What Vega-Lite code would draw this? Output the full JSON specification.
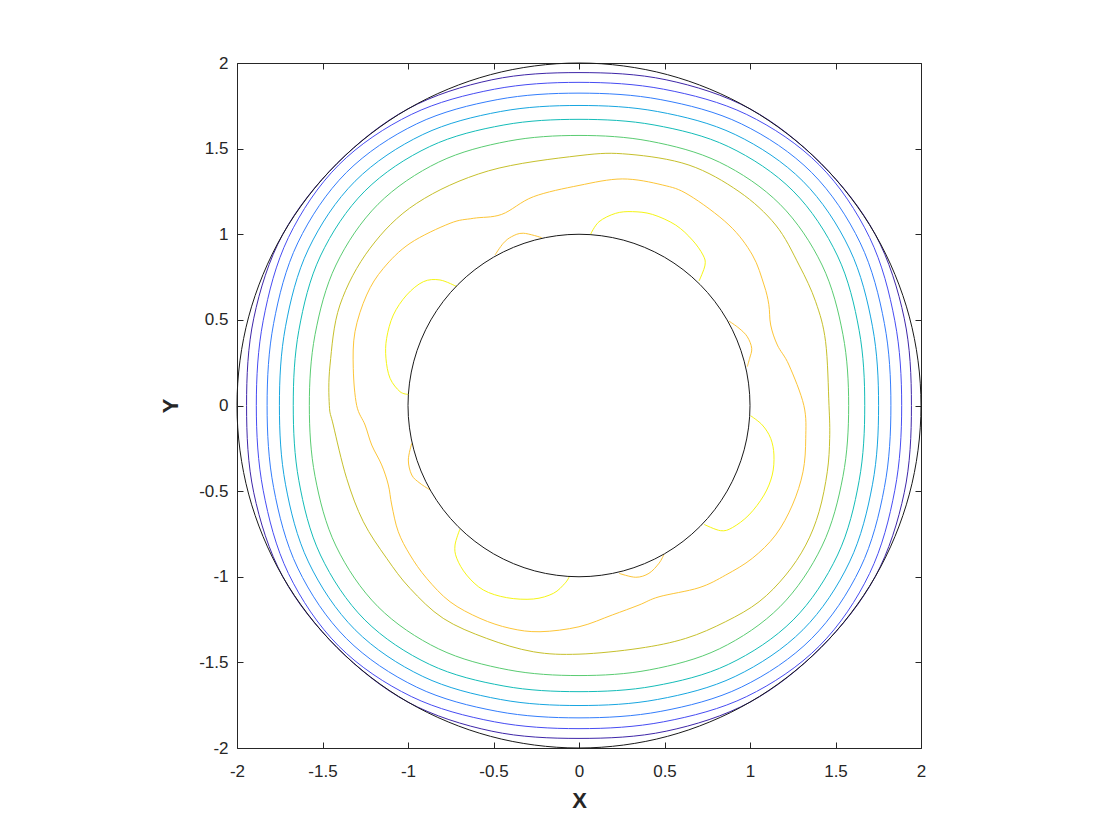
{
"$schema": "https://vega.github.io/schema/vega-lite/v6.json",
"width": 684, "height": 685,
"autosize": {"type": "none"},
"padding": {"left": 237, "top": 63, "right": 199, "bottom": 92},
"background": "white",
"config": {"view": {"stroke": "#262626", "strokeWidth": 1}},
"datasets": {
"closed": [
{"lev":"L1","i":0,"x":1.944,"y":0},{"lev":"L1","i":1,"x":1.9019,"y":0.5096},{"lev":"L1","i":2,"x":1.7321,"y":1},{"lev":"L1","i":3,"x":1.4142,"y":1.4142},{"lev":"L1","i":4,"x":1,"y":1.7321},{"lev":"L1","i":5,"x":0.5096,"y":1.9019},{"lev":"L1","i":6,"x":0,"y":1.944},{"lev":"L1","i":7,"x":-0.5096,"y":1.9019},{"lev":"L1","i":8,"x":-1,"y":1.7321},{"lev":"L1","i":9,"x":-1.4142,"y":1.4142},{"lev":"L1","i":10,"x":-1.7321,"y":1},{"lev":"L1","i":11,"x":-1.9019,"y":0.5096},{"lev":"L1","i":12,"x":-1.944,"y":0},{"lev":"L1","i":13,"x":-1.9019,"y":-0.5096},{"lev":"L1","i":14,"x":-1.7321,"y":-1},{"lev":"L1","i":15,"x":-1.4142,"y":-1.4142},{"lev":"L1","i":16,"x":-1,"y":-1.7321},{"lev":"L1","i":17,"x":-0.5096,"y":-1.9019},{"lev":"L1","i":18,"x":0,"y":-1.944},{"lev":"L1","i":19,"x":0.5096,"y":-1.9019},{"lev":"L1","i":20,"x":1,"y":-1.7321},{"lev":"L1","i":21,"x":1.4142,"y":-1.4142},{"lev":"L1","i":22,"x":1.7321,"y":-1},{"lev":"L1","i":23,"x":1.9019,"y":-0.5096},
{"lev":"L2","i":0,"x":1.887,"y":0},{"lev":"L2","i":1,"x":1.8469,"y":0.4949},{"lev":"L2","i":2,"x":1.6992,"y":0.981},{"lev":"L2","i":3,"x":1.405,"y":1.405},{"lev":"L2","i":4,"x":0.981,"y":1.6992},{"lev":"L2","i":5,"x":0.4949,"y":1.8469},{"lev":"L2","i":6,"x":0,"y":1.887},{"lev":"L2","i":7,"x":-0.4949,"y":1.8469},{"lev":"L2","i":8,"x":-0.981,"y":1.6992},{"lev":"L2","i":9,"x":-1.405,"y":1.405},{"lev":"L2","i":10,"x":-1.6992,"y":0.981},{"lev":"L2","i":11,"x":-1.8469,"y":0.4949},{"lev":"L2","i":12,"x":-1.887,"y":0},{"lev":"L2","i":13,"x":-1.8469,"y":-0.4949},{"lev":"L2","i":14,"x":-1.6992,"y":-0.981},{"lev":"L2","i":15,"x":-1.405,"y":-1.405},{"lev":"L2","i":16,"x":-0.981,"y":-1.6992},{"lev":"L2","i":17,"x":-0.4949,"y":-1.8469},{"lev":"L2","i":18,"x":0,"y":-1.887},{"lev":"L2","i":19,"x":0.4949,"y":-1.8469},{"lev":"L2","i":20,"x":0.981,"y":-1.6992},{"lev":"L2","i":21,"x":1.405,"y":-1.405},{"lev":"L2","i":22,"x":1.6992,"y":-0.981},{"lev":"L2","i":23,"x":1.8469,"y":-0.4949},
{"lev":"L3","i":0,"x":1.824,"y":0},{"lev":"L3","i":1,"x":1.786,"y":0.4786},{"lev":"L3","i":2,"x":1.6446,"y":0.9495},{"lev":"L3","i":3,"x":1.3605,"y":1.3605},{"lev":"L3","i":4,"x":0.9495,"y":1.6446},{"lev":"L3","i":5,"x":0.4786,"y":1.786},{"lev":"L3","i":6,"x":0,"y":1.824},{"lev":"L3","i":7,"x":-0.4786,"y":1.786},{"lev":"L3","i":8,"x":-0.9495,"y":1.6446},{"lev":"L3","i":9,"x":-1.3605,"y":1.3605},{"lev":"L3","i":10,"x":-1.6446,"y":0.9495},{"lev":"L3","i":11,"x":-1.786,"y":0.4786},{"lev":"L3","i":12,"x":-1.824,"y":0},{"lev":"L3","i":13,"x":-1.786,"y":-0.4786},{"lev":"L3","i":14,"x":-1.6446,"y":-0.9495},{"lev":"L3","i":15,"x":-1.3605,"y":-1.3605},{"lev":"L3","i":16,"x":-0.9495,"y":-1.6446},{"lev":"L3","i":17,"x":-0.4786,"y":-1.786},{"lev":"L3","i":18,"x":0,"y":-1.824},{"lev":"L3","i":19,"x":0.4786,"y":-1.786},{"lev":"L3","i":20,"x":0.9495,"y":-1.6446},{"lev":"L3","i":21,"x":1.3605,"y":-1.3605},{"lev":"L3","i":22,"x":1.6446,"y":-0.9495},{"lev":"L3","i":23,"x":1.786,"y":-0.4786},
{"lev":"L4","i":0,"x":1.752,"y":0},{"lev":"L4","i":1,"x":1.7165,"y":0.4599},{"lev":"L4","i":2,"x":1.5822,"y":0.9135},{"lev":"L4","i":3,"x":1.3096,"y":1.3096},{"lev":"L4","i":4,"x":0.9135,"y":1.5822},{"lev":"L4","i":5,"x":0.4599,"y":1.7165},{"lev":"L4","i":6,"x":0,"y":1.752},{"lev":"L4","i":7,"x":-0.4599,"y":1.7165},{"lev":"L4","i":8,"x":-0.9135,"y":1.5822},{"lev":"L4","i":9,"x":-1.3096,"y":1.3096},{"lev":"L4","i":10,"x":-1.5822,"y":0.9135},{"lev":"L4","i":11,"x":-1.7165,"y":0.4599},{"lev":"L4","i":12,"x":-1.752,"y":0},{"lev":"L4","i":13,"x":-1.7165,"y":-0.4599},{"lev":"L4","i":14,"x":-1.5822,"y":-0.9135},{"lev":"L4","i":15,"x":-1.3096,"y":-1.3096},{"lev":"L4","i":16,"x":-0.9135,"y":-1.5822},{"lev":"L4","i":17,"x":-0.4599,"y":-1.7165},{"lev":"L4","i":18,"x":0,"y":-1.752},{"lev":"L4","i":19,"x":0.4599,"y":-1.7165},{"lev":"L4","i":20,"x":0.9135,"y":-1.5822},{"lev":"L4","i":21,"x":1.3096,"y":-1.3096},{"lev":"L4","i":22,"x":1.5822,"y":-0.9135},{"lev":"L4","i":23,"x":1.7165,"y":-0.4599},
{"lev":"L5","i":0,"x":1.671,"y":0},{"lev":"L5","i":1,"x":1.6382,"y":0.439},{"lev":"L5","i":2,"x":1.5121,"y":0.873},{"lev":"L5","i":3,"x":1.2523,"y":1.2523},{"lev":"L5","i":4,"x":0.873,"y":1.5121},{"lev":"L5","i":5,"x":0.439,"y":1.6382},{"lev":"L5","i":6,"x":0,"y":1.671},{"lev":"L5","i":7,"x":-0.439,"y":1.6382},{"lev":"L5","i":8,"x":-0.873,"y":1.5121},{"lev":"L5","i":9,"x":-1.2523,"y":1.2523},{"lev":"L5","i":10,"x":-1.5121,"y":0.873},{"lev":"L5","i":11,"x":-1.6382,"y":0.439},{"lev":"L5","i":12,"x":-1.671,"y":0},{"lev":"L5","i":13,"x":-1.6382,"y":-0.439},{"lev":"L5","i":14,"x":-1.5121,"y":-0.873},{"lev":"L5","i":15,"x":-1.2523,"y":-1.2523},{"lev":"L5","i":16,"x":-0.873,"y":-1.5121},{"lev":"L5","i":17,"x":-0.439,"y":-1.6382},{"lev":"L5","i":18,"x":0,"y":-1.671},{"lev":"L5","i":19,"x":0.439,"y":-1.6382},{"lev":"L5","i":20,"x":0.873,"y":-1.5121},{"lev":"L5","i":21,"x":1.2523,"y":-1.2523},{"lev":"L5","i":22,"x":1.5121,"y":-0.873},{"lev":"L5","i":23,"x":1.6382,"y":-0.439},
{"lev":"L6","i":0,"x":1.577,"y":0},{"lev":"L6","i":1,"x":1.5436,"y":0.4136},{"lev":"L6","i":2,"x":1.4212,"y":0.8205},{"lev":"L6","i":3,"x":1.1752,"y":1.1752},{"lev":"L6","i":4,"x":0.8205,"y":1.4212},{"lev":"L6","i":5,"x":0.4136,"y":1.5436},{"lev":"L6","i":6,"x":0,"y":1.577},{"lev":"L6","i":7,"x":-0.4136,"y":1.5436},{"lev":"L6","i":8,"x":-0.8205,"y":1.4212},{"lev":"L6","i":9,"x":-1.1752,"y":1.1752},{"lev":"L6","i":10,"x":-1.4212,"y":0.8205},{"lev":"L6","i":11,"x":-1.5436,"y":0.4136},{"lev":"L6","i":12,"x":-1.577,"y":0},{"lev":"L6","i":13,"x":-1.5436,"y":-0.4136},{"lev":"L6","i":14,"x":-1.4212,"y":-0.8205},{"lev":"L6","i":15,"x":-1.1752,"y":-1.1752},{"lev":"L6","i":16,"x":-0.8205,"y":-1.4212},{"lev":"L6","i":17,"x":-0.4136,"y":-1.5436},{"lev":"L6","i":18,"x":0,"y":-1.577},{"lev":"L6","i":19,"x":0.4136,"y":-1.5436},{"lev":"L6","i":20,"x":0.8205,"y":-1.4212},{"lev":"L6","i":21,"x":1.1752,"y":-1.1752},{"lev":"L6","i":22,"x":1.4212,"y":-0.8205},{"lev":"L6","i":23,"x":1.5436,"y":-0.4136},
{"lev":"L7","i":0,"x":1.462,"y":0},{"lev":"L7","i":1,"x":1.442,"y":0.373},{"lev":"L7","i":2,"x":1.384,"y":0.606},{"lev":"L7","i":3,"x":1.287,"y":0.82},{"lev":"L7","i":4,"x":1.15,"y":1.054},{"lev":"L7","i":5,"x":0.936,"y":1.249},{"lev":"L7","i":6,"x":0.643,"y":1.404},{"lev":"L7","i":7,"x":0.292,"y":1.467},{"lev":"L7","i":8,"x":0,"y":1.459},{"lev":"L7","i":9,"x":-0.53,"y":1.37},{"lev":"L7","i":10,"x":-0.949,"y":1.181},{"lev":"L7","i":11,"x":-1.222,"y":0.918},{"lev":"L7","i":12,"x":-1.398,"y":0.587},{"lev":"L7","i":13,"x":-1.456,"y":0.236},{"lev":"L7","i":14,"x":-1.46,"y":0},{"lev":"L7","i":15,"x":-1.437,"y":-0.114},{"lev":"L7","i":16,"x":-1.359,"y":-0.425},{"lev":"L7","i":17,"x":-1.261,"y":-0.679},{"lev":"L7","i":18,"x":-1.125,"y":-0.892},{"lev":"L7","i":19,"x":-0.988,"y":-1.068},{"lev":"L7","i":20,"x":-0.794,"y":-1.243},{"lev":"L7","i":21,"x":-0.54,"y":-1.36},{"lev":"L7","i":22,"x":-0.267,"y":-1.438},{"lev":"L7","i":23,"x":0,"y":-1.452},{"lev":"L7","i":24,"x":0.351,"y":-1.418},{"lev":"L7","i":25,"x":0.624,"y":-1.36},{"lev":"L7","i":26,"x":0.858,"y":-1.262},{"lev":"L7","i":27,"x":1.053,"y":-1.146},{"lev":"L7","i":28,"x":1.209,"y":-0.99},{"lev":"L7","i":29,"x":1.326,"y":-0.815},{"lev":"L7","i":30,"x":1.404,"y":-0.62},{"lev":"L7","i":31,"x":1.452,"y":-0.387},{"lev":"L7","i":32,"x":1.466,"y":-0.192},
{"lev":"L8","i":0,"x":1.315,"y":0},{"lev":"L8","i":1,"x":1.228,"y":0.236},{"lev":"L8","i":2,"x":1.16,"y":0.353},{"lev":"L8","i":3,"x":1.121,"y":0.47},{"lev":"L8","i":4,"x":1.11,"y":0.59},{"lev":"L8","i":5,"x":1.082,"y":0.704},{"lev":"L8","i":6,"x":1.014,"y":0.879},{"lev":"L8","i":7,"x":0.877,"y":1.054},{"lev":"L8","i":8,"x":0.643,"y":1.229},{"lev":"L8","i":9,"x":0.487,"y":1.288},{"lev":"L8","i":10,"x":0.253,"y":1.323},{"lev":"L8","i":11,"x":0,"y":1.285},{"lev":"L8","i":12,"x":-0.267,"y":1.219},{"lev":"L8","i":13,"x":-0.452,"y":1.116},{"lev":"L8","i":14,"x":-0.618,"y":1.093},{"lev":"L8","i":15,"x":-0.754,"y":1.064},{"lev":"L8","i":16,"x":-0.988,"y":0.947},{"lev":"L8","i":17,"x":-1.144,"y":0.801},{"lev":"L8","i":18,"x":-1.242,"y":0.645},{"lev":"L8","i":19,"x":-1.31,"y":0.431},{"lev":"L8","i":20,"x":-1.32,"y":0.217},{"lev":"L8","i":21,"x":-1.3,"y":0},{"lev":"L8","i":22,"x":-1.251,"y":-0.114},{"lev":"L8","i":23,"x":-1.212,"y":-0.231},{"lev":"L8","i":24,"x":-1.154,"y":-0.347},{"lev":"L8","i":25,"x":-1.115,"y":-0.464},{"lev":"L8","i":26,"x":-1.095,"y":-0.581},{"lev":"L8","i":27,"x":-1.057,"y":-0.737},{"lev":"L8","i":28,"x":-0.988,"y":-0.873},{"lev":"L8","i":29,"x":-0.891,"y":-1.009},{"lev":"L8","i":30,"x":-0.754,"y":-1.146},{"lev":"L8","i":31,"x":-0.579,"y":-1.243},{"lev":"L8","i":32,"x":-0.404,"y":-1.301},{"lev":"L8","i":33,"x":-0.228,"y":-1.321},{"lev":"L8","i":34,"x":0,"y":-1.292},{"lev":"L8","i":35,"x":0.195,"y":-1.223},{"lev":"L8","i":36,"x":0.351,"y":-1.165},{"lev":"L8","i":37,"x":0.468,"y":-1.117},{"lev":"L8","i":38,"x":0.702,"y":-1.064},{"lev":"L8","i":39,"x":0.858,"y":-0.99},{"lev":"L8","i":40,"x":1.014,"y":-0.892},{"lev":"L8","i":41,"x":1.15,"y":-0.756},{"lev":"L8","i":42,"x":1.248,"y":-0.581},{"lev":"L8","i":43,"x":1.31,"y":-0.387},{"lev":"L8","i":44,"x":1.326,"y":-0.192}
],
"open": [
{"c":"Y1","lev":"L9","i":0,"x":-0.715,"y":0.694},{"c":"Y1","lev":"L9","i":1,"x":-0.813,"y":0.733},{"c":"Y1","lev":"L9","i":2,"x":-0.91,"y":0.723},{"c":"Y1","lev":"L9","i":3,"x":-1.008,"y":0.645},{"c":"Y1","lev":"L9","i":4,"x":-1.086,"y":0.528},{"c":"Y1","lev":"L9","i":5,"x":-1.125,"y":0.392},{"c":"Y1","lev":"L9","i":6,"x":-1.129,"y":0.276},{"c":"Y1","lev":"L9","i":7,"x":-1.105,"y":0.159},{"c":"Y1","lev":"L9","i":8,"x":-1.047,"y":0.081},{"c":"Y1","lev":"L9","i":9,"x":-0.998,"y":0.065},
{"c":"Y2","lev":"L9","i":0,"x":0.068,"y":1.0},{"c":"Y2","lev":"L9","i":1,"x":0.117,"y":1.073},{"c":"Y2","lev":"L9","i":2,"x":0.214,"y":1.122},{"c":"Y2","lev":"L9","i":3,"x":0.312,"y":1.132},{"c":"Y2","lev":"L9","i":4,"x":0.429,"y":1.116},{"c":"Y2","lev":"L9","i":5,"x":0.565,"y":1.054},{"c":"Y2","lev":"L9","i":6,"x":0.663,"y":0.966},{"c":"Y2","lev":"L9","i":7,"x":0.725,"y":0.879},{"c":"Y2","lev":"L9","i":8,"x":0.737,"y":0.82},{"c":"Y2","lev":"L9","i":9,"x":0.702,"y":0.727},
{"c":"Y3","lev":"L9","i":0,"x":1.004,"y":-0.06},{"c":"Y3","lev":"L9","i":1,"x":1.072,"y":-0.114},{"c":"Y3","lev":"L9","i":2,"x":1.121,"y":-0.192},{"c":"Y3","lev":"L9","i":3,"x":1.14,"y":-0.289},{"c":"Y3","lev":"L9","i":4,"x":1.13,"y":-0.406},{"c":"Y3","lev":"L9","i":5,"x":1.082,"y":-0.523},{"c":"Y3","lev":"L9","i":6,"x":0.994,"y":-0.639},{"c":"Y3","lev":"L9","i":7,"x":0.897,"y":-0.713},{"c":"Y3","lev":"L9","i":8,"x":0.828,"y":-0.731},{"c":"Y3","lev":"L9","i":9,"x":0.731,"y":-0.694},
{"c":"Y4","lev":"L9","i":0,"x":-0.696,"y":-0.721},{"c":"Y4","lev":"L9","i":1,"x":-0.725,"y":-0.815},{"c":"Y4","lev":"L9","i":2,"x":-0.715,"y":-0.892},{"c":"Y4","lev":"L9","i":3,"x":-0.657,"y":-0.99},{"c":"Y4","lev":"L9","i":4,"x":-0.56,"y":-1.077},{"c":"Y4","lev":"L9","i":5,"x":-0.423,"y":-1.122},{"c":"Y4","lev":"L9","i":6,"x":-0.267,"y":-1.13},{"c":"Y4","lev":"L9","i":7,"x":-0.15,"y":-1.097},{"c":"Y4","lev":"L9","i":8,"x":-0.082,"y":-1.038},{"c":"Y4","lev":"L9","i":9,"x":-0.057,"y":-1.0},
{"c":"O1","lev":"L8","i":0,"x":-0.491,"y":0.879},{"c":"O1","lev":"L8","i":1,"x":-0.443,"y":0.947},{"c":"O1","lev":"L8","i":2,"x":-0.394,"y":0.986},{"c":"O1","lev":"L8","i":3,"x":-0.326,"y":1.006},{"c":"O1","lev":"L8","i":4,"x":-0.218,"y":0.98},
{"c":"O2","lev":"L8","i":0,"x":0.877,"y":0.493},{"c":"O2","lev":"L8","i":1,"x":0.936,"y":0.451},{"c":"O2","lev":"L8","i":2,"x":0.984,"y":0.402},{"c":"O2","lev":"L8","i":3,"x":1.01,"y":0.334},{"c":"O2","lev":"L8","i":4,"x":0.998,"y":0.276},{"c":"O2","lev":"L8","i":5,"x":0.984,"y":0.227},
{"c":"O3","lev":"L8","i":0,"x":-0.978,"y":-0.221},{"c":"O3","lev":"L8","i":1,"x":-0.998,"y":-0.318},{"c":"O3","lev":"L8","i":2,"x":-0.978,"y":-0.406},{"c":"O3","lev":"L8","i":3,"x":-0.93,"y":-0.454},{"c":"O3","lev":"L8","i":4,"x":-0.871,"y":-0.493},
{"c":"O4","lev":"L8","i":0,"x":0.497,"y":-0.869},{"c":"O4","lev":"L8","i":1,"x":0.468,"y":-0.921},{"c":"O4","lev":"L8","i":2,"x":0.409,"y":-0.98},{"c":"O4","lev":"L8","i":3,"x":0.332,"y":-1.003},{"c":"O4","lev":"L8","i":4,"x":0.234,"y":-0.98}
],
"frame": [
{"c":"R2","i":0,"x":2,"y":0},{"c":"R2","i":1,"x":1.9319,"y":0.5176},{"c":"R2","i":2,"x":1.7321,"y":1},{"c":"R2","i":3,"x":1.4142,"y":1.4142},{"c":"R2","i":4,"x":1,"y":1.7321},{"c":"R2","i":5,"x":0.5176,"y":1.9319},{"c":"R2","i":6,"x":0,"y":2},{"c":"R2","i":7,"x":-0.5176,"y":1.9319},{"c":"R2","i":8,"x":-1,"y":1.7321},{"c":"R2","i":9,"x":-1.4142,"y":1.4142},{"c":"R2","i":10,"x":-1.7321,"y":1},{"c":"R2","i":11,"x":-1.9319,"y":0.5176},{"c":"R2","i":12,"x":-2,"y":0},{"c":"R2","i":13,"x":-1.9319,"y":-0.5176},{"c":"R2","i":14,"x":-1.7321,"y":-1},{"c":"R2","i":15,"x":-1.4142,"y":-1.4142},{"c":"R2","i":16,"x":-1,"y":-1.7321},{"c":"R2","i":17,"x":-0.5176,"y":-1.9319},{"c":"R2","i":18,"x":0,"y":-2},{"c":"R2","i":19,"x":0.5176,"y":-1.9319},{"c":"R2","i":20,"x":1,"y":-1.7321},{"c":"R2","i":21,"x":1.4142,"y":-1.4142},{"c":"R2","i":22,"x":1.7321,"y":-1},{"c":"R2","i":23,"x":1.9319,"y":-0.5176},
{"c":"R1","i":0,"x":1,"y":0},{"c":"R1","i":1,"x":0.9659,"y":0.2588},{"c":"R1","i":2,"x":0.866,"y":0.5},{"c":"R1","i":3,"x":0.7071,"y":0.7071},{"c":"R1","i":4,"x":0.5,"y":0.866},{"c":"R1","i":5,"x":0.2588,"y":0.9659},{"c":"R1","i":6,"x":0,"y":1},{"c":"R1","i":7,"x":-0.2588,"y":0.9659},{"c":"R1","i":8,"x":-0.5,"y":0.866},{"c":"R1","i":9,"x":-0.7071,"y":0.7071},{"c":"R1","i":10,"x":-0.866,"y":0.5},{"c":"R1","i":11,"x":-0.9659,"y":0.2588},{"c":"R1","i":12,"x":-1,"y":0},{"c":"R1","i":13,"x":-0.9659,"y":-0.2588},{"c":"R1","i":14,"x":-0.866,"y":-0.5},{"c":"R1","i":15,"x":-0.7071,"y":-0.7071},{"c":"R1","i":16,"x":-0.5,"y":-0.866},{"c":"R1","i":17,"x":-0.2588,"y":-0.9659},{"c":"R1","i":18,"x":0,"y":-1},{"c":"R1","i":19,"x":0.2588,"y":-0.9659},{"c":"R1","i":20,"x":0.5,"y":-0.866},{"c":"R1","i":21,"x":0.7071,"y":-0.7071},{"c":"R1","i":22,"x":0.866,"y":-0.5},{"c":"R1","i":23,"x":0.9659,"y":-0.2588}
]
},
"resolve": {"axis": {"x": "independent", "y": "independent"}},
"layer": [
{
"data": {"name": "closed"},
"mark": {"type": "line", "interpolate": "cardinal-closed", "strokeWidth": 1},
"encoding": {
"x": {"field": "x", "type": "quantitative", "scale": {"domain": [-2, 2], "nice": false, "zero": false},
"axis": {"orient": "bottom", "values": [-2, -1.5, -1, -0.5, 0, 0.5, 1, 1.5, 2], "labelExpr": "'' + datum.value", "tickSize": -6, "tickColor": "#262626", "labelPadding": 21, "domain": false, "grid": false, "title": "X", "titleFont": "Liberation Sans", "titleFontSize": 22, "titleFontWeight": "bold", "titleColor": "#262626", "titlePadding": 11, "labelFont": "Liberation Sans", "labelFontSize": 17, "labelColor": "#262626", "labelFlush": false, "labelOverlap": false}},
"y": {"field": "y", "type": "quantitative", "scale": {"domain": [-2, 2], "nice": false, "zero": false},
"axis": {"orient": "left", "values": [-2, -1.5, -1, -0.5, 0, 0.5, 1, 1.5, 2], "labelExpr": "'' + datum.value", "tickSize": -6, "tickColor": "#262626", "labelPadding": 15, "domain": false, "grid": false, "title": "Y", "titleFont": "Liberation Sans", "titleFontSize": 22, "titleFontWeight": "bold", "titleColor": "#262626", "titlePadding": 16, "labelFont": "Liberation Sans", "labelFontSize": 17, "labelColor": "#262626", "labelFlush": false, "labelOverlap": false}},
"detail": {"field": "lev", "type": "nominal"},
"order": {"field": "i", "type": "quantitative"},
"color": {"field": "lev", "type": "nominal", "legend": null,
"scale": {"domain": ["L1","L2","L3","L4","L5","L6","L7","L8","L9"], "range": ["#3e26a8","#474cf2","#337dfc","#17a6e0","#14bcb8","#5acc72","#c6c02c","#fcc538","#f5f515"]}}
}
},
{
"data": {"name": "open"},
"mark": {"type": "line", "interpolate": "cardinal", "strokeWidth": 1},
"encoding": {
"x": {"field": "x", "type": "quantitative", "axis": {"orient": "top", "values": [-2, -1.5, -1, -0.5, 0, 0.5, 1, 1.5, 2], "labels": false, "tickSize": -6, "tickColor": "#262626", "domain": false, "grid": false, "title": null}},
"y": {"field": "y", "type": "quantitative", "axis": {"orient": "right", "values": [-2, -1.5, -1, -0.5, 0, 0.5, 1, 1.5, 2], "labels": false, "tickSize": -6, "tickColor": "#262626", "domain": false, "grid": false, "title": null}},
"detail": {"field": "c", "type": "nominal"},
"order": {"field": "i", "type": "quantitative"},
"color": {"field": "lev", "type": "nominal", "legend": null}
}
},
{
"data": {"name": "frame"},
"mark": {"type": "line", "interpolate": "cardinal-closed", "strokeWidth": 1, "color": "#1a1a1a"},
"encoding": {
"x": {"field": "x", "type": "quantitative", "axis": null},
"y": {"field": "y", "type": "quantitative", "axis": null},
"detail": {"field": "c", "type": "nominal"},
"order": {"field": "i", "type": "quantitative"}
}
}
]
}
